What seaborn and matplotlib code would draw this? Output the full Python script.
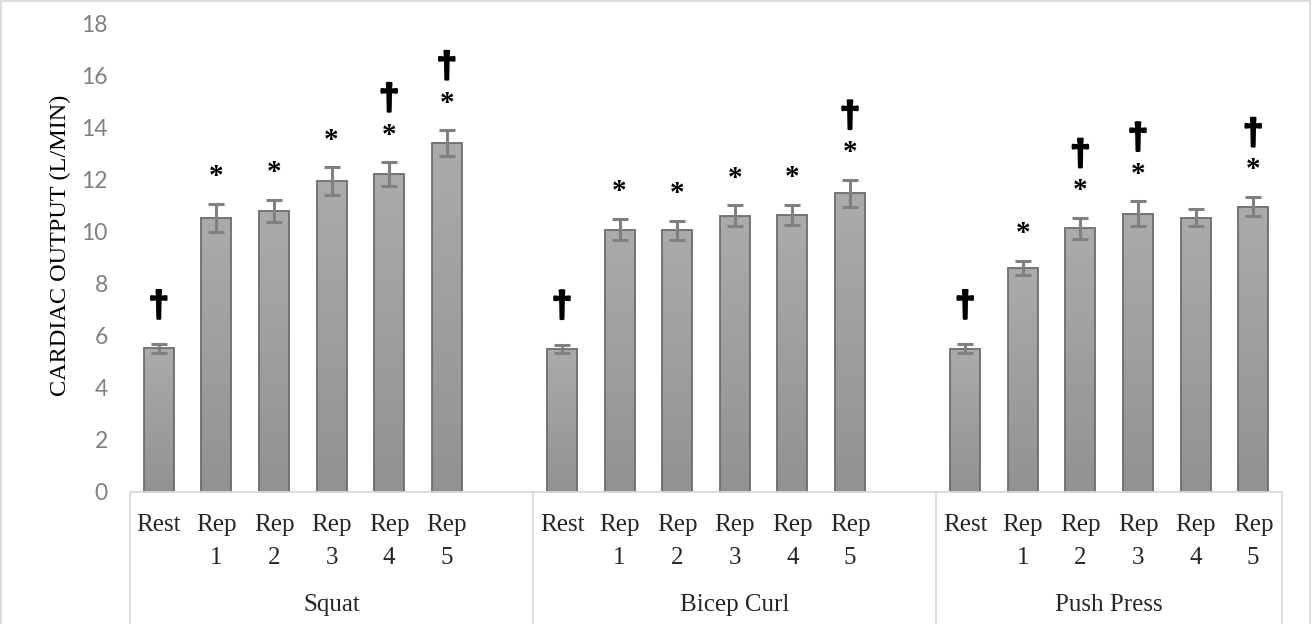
import numpy as np
import pandas as pd
import matplotlib
matplotlib.use("Agg")
import matplotlib.pyplot as plt
import matplotlib.patches as mpatches
import matplotlib.patheffects as pe
import seaborn as sns

# ---------------- data ----------------
groups = ["Squat", "Bicep Curl", "Push Press"]
conditions = ["Rest", "Rep 1", "Rep 2", "Rep 3", "Rep 4", "Rep 5"]
tick_labels = ["Rest", "Rep\n1", "Rep\n2", "Rep\n3", "Rep\n4", "Rep\n5"]

squat_mean = [5.51, 10.53, 10.78, 11.94, 12.20, 13.39]
squat_err = [0.16, 0.54, 0.43, 0.53, 0.46, 0.50]
bicep_mean = [5.50, 10.07, 10.04, 10.60, 10.63, 11.46]
bicep_err = [0.16, 0.41, 0.37, 0.40, 0.40, 0.53]
push_mean = [5.50, 8.61, 10.12, 10.67, 10.53, 10.95]
push_err = [0.17, 0.27, 0.40, 0.48, 0.34, 0.37]

squat_marks = ["†", "*", "*", "*", "*†", "*†"]
bicep_marks = ["†", "*", "*", "*", "*", "*†"]
push_marks = ["†", "*", "*†", "*†", "", "*†"]

y_label = "CARDIAC OUTPUT (L/MIN)"
y_ticks = [0, 2, 4, 6, 8, 10, 12, 14, 16, 18]

# ---------------- build table ----------------
means = [squat_mean, bicep_mean, push_mean]
errs = [squat_err, bicep_err, push_err]
marks = [squat_marks, bicep_marks, push_marks]
rows = []
for g, m, e, mk in zip(groups, means, errs, marks):
    for c, v, er, s in zip(conditions, m, e, mk):
        rows.append({"group": g, "cond": c, "key": f"{g}|{c}", "value": v, "err": er, "mark": s})
df = pd.DataFrame(rows)

# slot order: blank category after first two groups (as in the Excel source)
order, labels, bounds = [], [], [-0.5]
for gi, g in enumerate(groups):
    for c, tl in zip(conditions, tick_labels):
        order.append(f"{g}|{c}")
        labels.append(tl)
    if gi < len(groups) - 1:
        order.append(" " * (gi + 1))
        labels.append("")
    bounds.append(len(order) - 0.5)
pos = {k: i for i, k in enumerate(order)}

# ---------------- figure ----------------
sns.set_theme(style="white")
plt.rcParams["font.family"] = ["Liberation Serif", "DejaVu Serif"]

W, H = 1312, 624
fig = plt.figure(figsize=(W / 100, H / 100), dpi=100)
fig.patch.set_facecolor("white")
ax_left, ax_right, ax_bottom_px, ax_top_px = 130, 1282, 492, 23
ax = fig.add_axes([ax_left / W, (H - ax_bottom_px) / H,
                   (ax_right - ax_left) / W, (ax_bottom_px - ax_top_px) / H])

sns.barplot(data=df, x="key", y="value", order=order, width=0.52,
            color="#a0a0a0", edgecolor="#6c6c6c", linewidth=1.3,
            errorbar=None, ax=ax, zorder=2)

# gradient fill for bars
grad = np.linspace(0, 1, 256).reshape(-1, 1)
cmap = matplotlib.colors.LinearSegmentedColormap.from_list("g", ["#929292", "#ababab"])
for p in list(ax.patches):
    bb = p.get_bbox()
    if bb.height <= 0:
        continue
    im = ax.imshow(grad, cmap=cmap, aspect="auto", origin="lower",
                   extent=[bb.x0, bb.x1, bb.y0, bb.y1], zorder=1.9)
    im.set_clip_path(p)
    p.set_facecolor("none")

xs = [pos[k] for k in df["key"]]
ax.errorbar(xs, df["value"], yerr=df["err"], fmt="none", ecolor="#808080",
            elinewidth=2.2, capsize=6, capthick=2.2, zorder=3)

# significance marks
dag_kw = dict(ha="center", va="center", fontsize=26, fontweight="bold",
              family=["Liberation Sans", "DejaVu Sans"], color="black",
              path_effects=[pe.withStroke(linewidth=1.6, foreground="black")])
ast_kw = dict(ha="center", va="center", fontsize=21, fontweight="bold",
              family=["Liberation Serif"], color="black")
for x, v, e, s in zip(xs, df["value"], df["err"], df["mark"]):
    top = v + e
    if s == "†":
        ax.annotate("†", (x, top), xytext=(0, 27), textcoords="offset points", **dag_kw)
    elif s == "*":
        ax.annotate("*", (x, top), xytext=(0, 19.5), textcoords="offset points", **ast_kw)
    elif s == "*†":
        ax.annotate("*", (x, top), xytext=(0, 19.5), textcoords="offset points", **ast_kw)
        ax.annotate("†", (x, top), xytext=(0, 45), textcoords="offset points", **dag_kw)

ax.set_xlim(-0.5, len(order) - 0.5)
ax.set_ylim(0, 18)
ax.set_yticks(y_ticks)
ax.set_yticklabels([str(t) for t in y_ticks], family=["Lato", "DejaVu Sans"],
                   fontsize=16.5, color="#808080")
ax.tick_params(axis="y", length=0, pad=16)
ax.set_xticks(range(len(order)))
ax.set_xticklabels(labels, fontsize=18, linespacing=1.62)
ax.tick_params(axis="x", length=0, pad=16)
ax.set_xlabel("")
ax.set_ylabel(y_label, fontsize=17.5, labelpad=7, color="black")
ax.yaxis.label.set_y(0.526)

for sp in ["top", "right", "left"]:
    ax.spines[sp].set_visible(False)
ax.spines["bottom"].set_color("#d9d9d9")
ax.spines["bottom"].set_linewidth(1.3)

# group separators and labels
trans = ax.get_xaxis_transform()
ax_h_px = ax_bottom_px - ax_top_px
y_bot = -(H - ax_bottom_px) / ax_h_px
for b in bounds:
    ax.plot([b, b], [0, y_bot], transform=trans, color="#d9d9d9", lw=1.3, clip_on=False)
for gi, g in enumerate(groups):
    cx = (bounds[gi] + bounds[gi + 1]) / 2
    ax.text(cx, -(605 - ax_bottom_px) / ax_h_px, g, transform=trans,
            ha="center", va="center", fontsize=18)

# outer chart border
fig.patches.append(mpatches.Rectangle((1 / W, -0.05), (W - 3) / W, 1.05 - 1 / H,
                                      transform=fig.transFigure, fill=False,
                                      edgecolor="#d9d9d9", lw=1.3))

fig.savefig("out.png", dpi=100, facecolor="white")
